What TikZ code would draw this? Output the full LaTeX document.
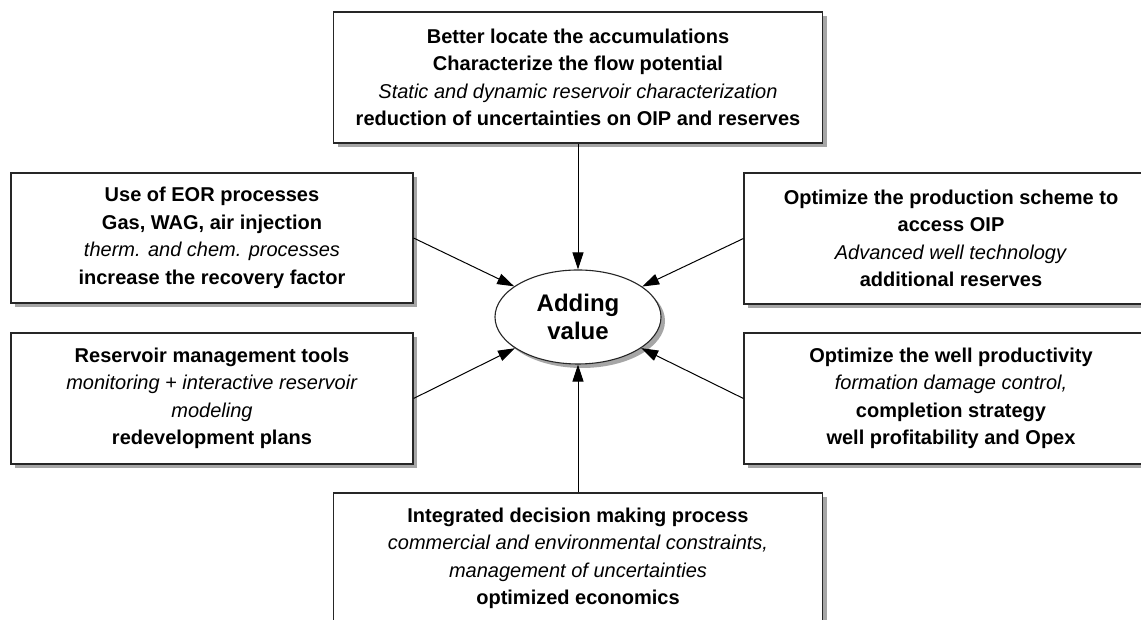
\documentclass[tikz,border=0pt]{standalone}
\usepackage{fontspec}
\setmainfont{Liberation Sans}
\usetikzlibrary{arrows.meta,shadows,shapes.geometric}
\begin{document}
\begin{tikzpicture}[x=1pt,y=1pt,
  box/.style={draw=black!85, line width=1.1pt, fill=white, rectangle, align=center, inner sep=0pt,
    drop shadow={shadow xshift=4pt, shadow yshift=-4pt, fill=black!35, opacity=1},
    font=\fontsize{20}{27.5}\selectfont},
  ell/.style={draw=black!85, line width=1.1pt, fill=white, ellipse, align=center, inner sep=0pt,
    minimum width=166pt, minimum height=94pt,
    drop shadow={shadow xshift=4pt, shadow yshift=-4pt, fill=black!35, opacity=1},
    font=\fontsize{24}{28}\selectfont\bfseries},
  arr/.style={-{Triangle[length=17pt,width=11pt]}, line width=1pt, draw=black}]
\useasboundingbox (0,0) rectangle (1141,620);
\clip (0,0) rectangle (1141,620);
\fill[white] (0,0) rectangle (1141,620);

\node[box, minimum width=489pt, minimum height=131pt] (top) at (578,542.5)
  {\textbf{Better locate the accumulations}\\
   \textbf{Characterize the flow potential}\\
   \textit{Static and dynamic reservoir characterization}\\
   \textbf{reduction of uncertainties on OIP and reserves}};

\node[box, minimum width=402pt, minimum height=130pt] (upleft) at (212,382)
  {\textbf{Use of EOR processes}\\
   \textbf{Gas, WAG, air injection}\\
   \textit{therm. and chem. processes}\\
   \textbf{increase the recovery factor}};

\node[box, minimum width=402pt, minimum height=131pt] (lowleft) at (212,221.5)
  {\textbf{Reservoir management tools}\\
   \textit{monitoring + interactive reservoir}\\
   \textit{modeling}\\
   \textbf{redevelopment plans}};

\node[box, minimum width=414pt, minimum height=131pt] (upright) at (951,381.5)
  {\textbf{Optimize the production scheme to}\\
   \textbf{access OIP}\\
   \textit{Advanced well technology}\\
   \textbf{additional reserves}};

\node[box, minimum width=414pt, minimum height=131pt] (lowright) at (951,221.5)
  {\textbf{Optimize the well productivity}\\
   \textit{formation damage control,}\\
   \textbf{completion strategy}\\
   \textbf{well profitability and Opex}};

\node[box, minimum width=489pt, minimum height=131pt] (bot) at (578,61.5)
  {\textbf{Integrated decision making process}\\
   \textit{commercial and environmental constraints,}\\
   \textit{management of uncertainties}\\
   \textbf{optimized economics}};

\node[ell] (val) at (578,303) {Adding\\value};

\draw[arr] (top.south) -- (val);
\draw[arr] (upleft.east) -- (val);
\draw[arr] (lowleft.east) -- (val);
\draw[arr] (upright.west) -- (val);
\draw[arr] (lowright.west) -- (val);
\draw[arr] (bot.north) -- (val);
\end{tikzpicture}
\end{document}
